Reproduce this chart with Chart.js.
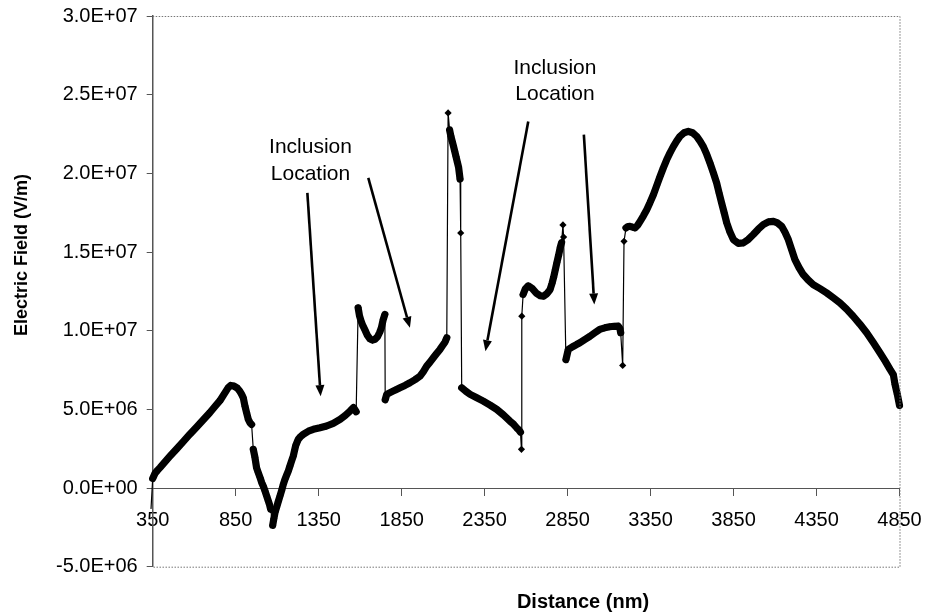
<!DOCTYPE html>
<html>
<head>
<meta charset="utf-8">
<title>Electric field along the line</title>
<script src="https://cdn.jsdelivr.net/npm/chart.js@4.4.1/dist/chart.umd.min.js"></script>
<style>
  html, body { margin: 0; padding: 0; background: #fff; }
  #wrap { width: 927px; height: 615px; }
</style>
</head>
<body>
<div id="wrap"><canvas id="field" width="927" height="615"></canvas></div>
<script>
// distance along the line (nm)
const distanceNm = [
  340, 350, 365, 380, 394, 424, 454, 494, 534, 574, 615, 655, 695, 725, 755, 785, 805, 820, 840, 860,
  875, 886, 896, 906, 916, 926, 936, 946, 956, 966, 976, 986, 997, 1007, 1016, 1027, 1037, 1047, 1054, 1061,
  1073, 1080, 1087, 1097, 1107, 1117, 1127, 1137, 1147, 1157, 1167, 1177, 1187, 1197, 1205, 1212, 1227, 1242, 1257, 1288,
  1318, 1358, 1398, 1438, 1479, 1509, 1539, 1560, 1576, 1588, 1596, 1606, 1617, 1629, 1644, 1659, 1674, 1689, 1704, 1718,
  1728, 1739, 1749, 1751, 1760, 1780, 1810, 1840, 1870, 1900, 1930, 1961, 1981, 2001, 2021, 2041, 2061, 2081, 2096, 2111,
  2122, 2130, 2139, 2147, 2155, 2162, 2170, 2178, 2186, 2193, 2202, 2206, 2212, 2237, 2263, 2300, 2342, 2383, 2423, 2463,
  2503, 2525, 2543, 2556, 2566, 2572, 2574, 2582, 2595, 2613, 2635, 2660, 2685, 2704, 2725, 2744, 2756, 2766, 2776, 2786,
  2796, 2806, 2814, 2822, 2826, 2840, 2854, 2880, 2904, 2924, 2954, 2984, 3013, 3043, 3074, 3104, 3130, 3155, 3165, 3170,
  3182, 3190, 3202, 3214, 3226, 3241, 3256, 3272, 3287, 3307, 3327, 3347, 3367, 3387, 3407, 3427, 3447, 3467, 3487, 3507,
  3527, 3552, 3577, 3603, 3628, 3648, 3668, 3688, 3708, 3728, 3748, 3763, 3778, 3794, 3809, 3829, 3849, 3879, 3909, 3939,
  3969, 3999, 4029, 4060, 4090, 4115, 4140, 4160, 4180, 4200, 4220, 4245, 4270, 4300, 4330, 4370, 4410, 4450, 4491, 4531,
  4571, 4611, 4652, 4692, 4732, 4763, 4793, 4813, 4823, 4837, 4850, 4864
];

// field strength at each distance, in MV/m
const fieldMV = [
  -1.30, 0.60, 0.95, 1.14, 1.30, 1.66, 2.02, 2.48, 2.95, 3.42, 3.88, 4.34, 4.80, 5.18, 5.55, 6.05, 6.38, 6.52, 6.48, 6.35,
  6.15, 5.95, 5.73, 5.20, 4.78, 4.36, 4.15, 4.04, 2.46, 1.95, 1.28, 0.98, 0.66, 0.34, 0.13, -0.19, -0.51, -0.83, -1.05, -1.35,
  -2.37, -1.95, -1.56, -1.20, -0.85, -0.51, -0.15, 0.23, 0.55, 0.82, 1.08, 1.40, 1.72, 2.03, 2.40, 2.71, 3.09, 3.28, 3.41, 3.61,
  3.73, 3.83, 3.94, 4.11, 4.36, 4.60, 4.89, 5.12, 4.85, 11.45, 10.95, 10.60, 10.30, 10.05, 9.70, 9.48, 9.40, 9.45, 9.60, 9.90,
  10.18, 10.71, 11.03, 5.61, 5.95, 6.06, 6.22, 6.37, 6.52, 6.69, 6.88, 7.11, 7.40, 7.75, 8.00, 8.28, 8.55, 8.81, 9.04, 9.27,
  9.55, 23.84, 22.76, 22.35, 22.03, 21.75, 21.40, 21.05, 20.70, 20.40, 19.64, 16.21, 6.37, 6.15, 5.95, 5.75, 5.52, 5.27, 5.00, 4.65,
  4.25, 4.05, 3.83, 3.70, 3.55, 2.46, 10.92, 12.30, 12.65, 12.85, 12.70, 12.40, 12.22, 12.19, 12.35, 12.60, 13.00, 13.40, 13.87, 14.35,
  14.80, 15.30, 15.60, 16.72, 15.95, 8.16, 8.80, 8.98, 9.12, 9.23, 9.44, 9.64, 9.86, 10.08, 10.18, 10.25, 10.28, 10.29, 10.15, 9.87,
  7.79, 15.68, 16.53, 16.62, 16.63, 16.58, 16.53, 16.70, 16.95, 17.30, 17.69, 18.15, 18.64, 19.22, 19.80, 20.35, 20.86, 21.30, 21.70, 22.05,
  22.35, 22.58, 22.67, 22.58, 22.35, 22.05, 21.70, 21.22, 20.66, 20.05, 19.39, 18.75, 18.12, 17.48, 16.85, 16.25, 15.79, 15.55, 15.58, 15.80,
  16.11, 16.45, 16.74, 16.92, 16.95, 16.85, 16.63, 16.25, 15.79, 15.15, 14.52, 14.00, 13.57, 13.22, 12.93, 12.68, 12.41, 12.10, 11.77, 11.37,
  10.92, 10.42, 9.87, 9.25, 8.60, 8.08, 7.54, 7.20, 6.58, 5.95, 5.25, 2.14
];

const xTickValues = [350, 850, 1350, 1850, 2350, 2850, 3350, 3850, 4350, 4850];
const yTickValues = [-5e6, 0, 5e6, 1e7, 1.5e7, 2e7, 2.5e7, 3e7];

const xTitle = "Distance (nm)";
const yTitle = "Electric Field (V/m)";

// callout labels and their arrows, in axis units
const noteLines = ["Inclusion", "Location"];
const notes = [
  {
    x: 1301, y: [21.66e6, 19.97e6],
    arrows: [[1282, 18.76e6, 1362, 5.84e6], [1649, 19.71e6, 1900, 10.18e6]]
  },
  {
    x: 2774, y: [26.69e6, 25.0e6],
    arrows: [[2613, 23.3e6, 2355, 8.7e6], [2948, 22.46e6, 3011, 11.66e6]]
  }
];

const FONT = '"Liberation Sans", Arial, Helvetica, sans-serif';
Chart.defaults.font.family = FONT;
Chart.defaults.color = "#000";

// 3.0E+07 style labels
const sci = (v) => {
  if (v === 0) return "0.0E+00";
  const exp = Math.floor(Math.log10(Math.abs(v)) + 1e-9);
  const mant = v / Math.pow(10, exp);
  return mant.toFixed(1) + "E" + (exp < 0 ? "-" : "+") + String(Math.abs(exp)).padStart(2, "0");
};

const points = distanceNm.map((x, i) => ({ x: x, y: fieldMV[i] * 1e6 }));

const drawArrow = (ctx, x1, y1, x2, y2) => {
  const ang = Math.atan2(y2 - y1, x2 - x1);
  const head = 11;
  const half = 4.5;
  const bx = x2 - head * Math.cos(ang);
  const by = y2 - head * Math.sin(ang);
  ctx.beginPath();
  ctx.moveTo(x1, y1);
  ctx.lineTo(bx, by);
  ctx.stroke();
  ctx.beginPath();
  ctx.moveTo(x2, y2);
  ctx.lineTo(bx + half * Math.sin(ang), by - half * Math.cos(ang));
  ctx.lineTo(bx - half * Math.sin(ang), by + half * Math.cos(ang));
  ctx.closePath();
  ctx.fill();
};

// dotted box, axis titles and the callouts
const extras = {
  id: "extras",
  afterDraw(chart) {
    const ctx = chart.ctx;
    const { left, top, right, bottom } = chart.chartArea;
    const xs = chart.scales.x;
    const ys = chart.scales.y;

    ctx.save();
    ctx.strokeStyle = "#777";
    ctx.lineWidth = 1;
    ctx.setLineDash([1.5, 1.5]);
    ctx.beginPath();
    ctx.moveTo(left, top + 0.5);
    ctx.lineTo(right + 0.5, top + 0.5);
    ctx.lineTo(right + 0.5, bottom + 0.5);
    ctx.lineTo(left, bottom + 0.5);
    ctx.stroke();
    ctx.setLineDash([]);

    ctx.fillStyle = "#000";
    ctx.textAlign = "center";
    ctx.textBaseline = "middle";
    ctx.font = "bold 20px " + FONT;
    ctx.fillText(xTitle, 583, 602);

    ctx.save();
    ctx.translate(22, 255);
    ctx.rotate(-Math.PI / 2);
    ctx.font = "bold 18px " + FONT;
    ctx.fillText(yTitle, 0, 0);
    ctx.restore();

    ctx.font = "21px " + FONT;
    ctx.strokeStyle = "#000";
    ctx.lineWidth = 2.6;
    notes.forEach((n) => {
      const cx = xs.getPixelForValue(n.x);
      noteLines.forEach((txt, i) => {
        ctx.fillText(txt, cx, ys.getPixelForValue(n.y[i]));
      });
      n.arrows.forEach((a) => {
        drawArrow(ctx,
          xs.getPixelForValue(a[0]), ys.getPixelForValue(a[1]),
          xs.getPixelForValue(a[2]), ys.getPixelForValue(a[3]));
      });
    });
    ctx.restore();
  }
};

new Chart(document.getElementById("field"), {
  type: "line",
  data: {
    datasets: [{
      data: points,
      borderColor: "#000",
      backgroundColor: "#000",
      borderWidth: 1.2,
      borderJoinStyle: "round",
      borderCapStyle: "round",
      tension: 0,
      pointStyle: "rectRot",
      pointRadius: (c) => {
        const p = c.raw;
        return p && (p.x < 350 || p.x > 4850) ? 0 : 3.6;
      },
      pointBorderWidth: 0,
      pointBackgroundColor: "#000",
      clip: { left: 4, top: 0, right: 6, bottom: 0 },
      // smooth runs look like a solid band, jumps are a hairline
      segment: {
        borderWidth: (c) => (Math.abs(c.p1.y - c.p0.y) > 12 ? 1.2 : 7.2)
      }
    }]
  },
  options: {
    responsive: false,
    animation: false,
    devicePixelRatio: 1,
    layout: { padding: { left: 0, top: 16, right: 27.5, bottom: 48.3 } },
    plugins: {
      legend: { display: false },
      tooltip: { enabled: false }
    },
    scales: {
      x: {
        type: "linear",
        min: 350,
        max: 4850,
        position: { y: 0 },
        afterBuildTicks: (s) => { s.ticks = xTickValues.map((v) => ({ value: v })); },
        afterFit: (s) => { s.paddingLeft = 0; s.paddingRight = 0; },
        ticks: {
          font: { size: 20 },
          padding: 13,
          maxRotation: 0,
          autoSkip: false,
          callback: (v) => String(v)
        },
        grid: { drawOnChartArea: false, tickLength: 7, color: "#555" },
        border: { color: "#555", width: 1 }
      },
      y: {
        type: "linear",
        min: -5e6,
        max: 3e7,
        afterBuildTicks: (s) => { s.ticks = yTickValues.map((v) => ({ value: v })); },
        afterFit: (s) => { s.width = 152.7; s.paddingTop = 0; s.paddingBottom = 0; },
        ticks: {
          font: { size: 20 },
          padding: 9,
          callback: (v) => sci(v)
        },
        grid: { drawOnChartArea: false, tickLength: 6, color: "#555" },
        border: { color: "#555", width: 1.5 }
      }
    }
  },
  plugins: [extras]
});
</script>
</body>
</html>
